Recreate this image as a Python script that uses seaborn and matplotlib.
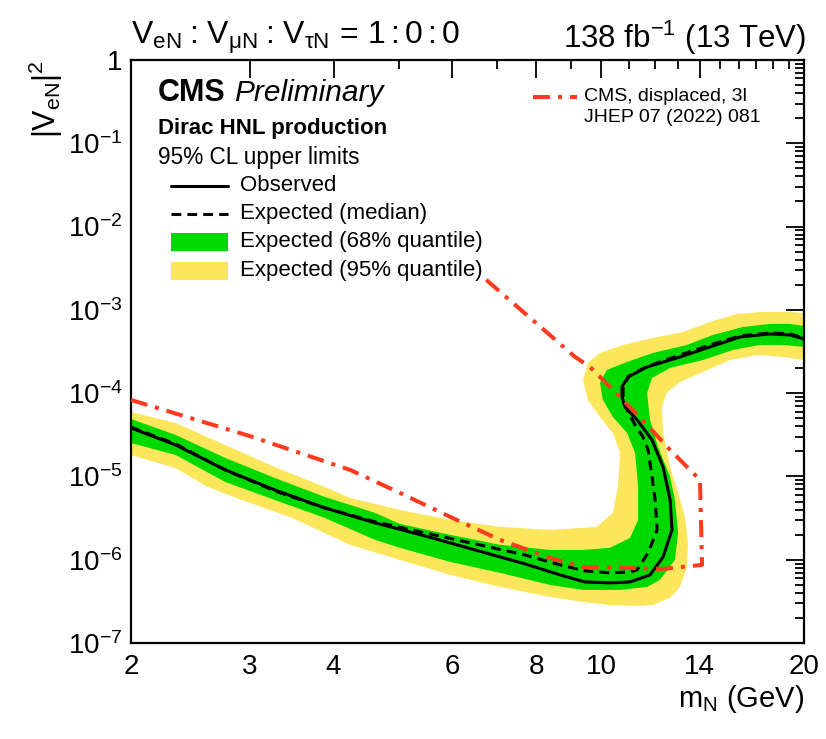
import numpy as np
import pandas as pd
import matplotlib
matplotlib.use("Agg")
import matplotlib.pyplot as plt
import seaborn as sns
from matplotlib.patches import Rectangle
from matplotlib.lines import Line2D

# ---------------- data ----------------
obs_m = [2.00, 2.33, 2.76, 3.27, 3.88, 4.61, 5.47, 6.49, 7.70, 8.68, 9.45, 10.30, 11.03, 11.81,
         12.35, 12.73, 12.65, 12.35, 11.89, 11.30, 10.84, 10.73, 10.73, 10.95, 11.69, 13.09,
         14.50, 16.07, 17.81, 19.06, 20.0]
obs_v = [3.82e-5, 2.39e-5, 1.20e-5, 6.89e-6, 4.19e-6, 2.77e-6, 1.93e-6, 1.31e-6, 8.91e-7, 6.57e-7,
         5.41e-7, 5.27e-7, 5.41e-7, 6.57e-7, 1.08e-6, 2.28e-6, 5.22e-6, 1.30e-5, 2.74e-5, 4.77e-5,
         6.82e-5, 8.99e-5, 1.19e-4, 1.56e-4, 2.06e-4, 2.72e-4, 3.59e-4, 4.73e-4, 5.14e-4, 5.00e-4,
         4.47e-4]

exp_m = [2.00, 2.33, 2.76, 3.27, 3.88, 4.61, 5.47, 6.49, 7.70, 8.68, 9.45, 10.30, 11.03, 11.30,
         11.73, 12.10, 12.02, 11.89, 11.73, 11.53, 11.22, 10.92, 10.77, 10.77, 10.99, 11.73, 13.09,
         14.50, 16.07, 17.81, 19.06, 20.0]
exp_v = [3.90e-5, 2.45e-5, 1.20e-5, 6.70e-6, 4.19e-6, 2.85e-6, 2.10e-6, 1.55e-6, 1.14e-6, 8.67e-7,
         7.34e-7, 6.95e-7, 7.14e-7, 7.55e-7, 1.21e-6, 2.28e-6, 5.22e-6, 9.86e-6, 2.08e-5, 2.98e-5,
         4.15e-5, 6.29e-5, 8.99e-5, 1.19e-4, 1.61e-4, 2.12e-4, 2.87e-4, 3.79e-4, 4.86e-4, 5.28e-4,
         5.14e-4, 4.60e-4]

disp_m = [2.00, 3.00, 4.23, 5.02, 5.96, 7.07, 8.39, 9.39, 10.66, 12.35, 14.11, 14.01, 12.65,
          11.69, 10.66, 9.62, 9.14, 6.67]
disp_v = [8.28e-5, 3.06e-5, 1.20e-5, 6.34e-6, 3.27e-6, 1.73e-6, 1.05e-6, 8.20e-7, 7.98e-7, 7.76e-7,
          8.67e-7, 9.08e-6, 2.08e-5, 4.15e-5, 8.99e-5, 2.06e-4, 2.72e-4, 2.48e-3]

# 95% band: outer edge (left/top of the S) then inner edge (right/bottom), forming a closed contour
y95_outer_m = [2.00, 2.33, 2.76, 3.27, 3.88, 4.23, 5.02, 5.96, 7.07, 8.39, 9.39, 9.85, 10.40, 10.58,
               10.66, 10.40, 9.95, 9.55, 9.39, 9.55, 9.95, 10.77, 11.93, 13.22, 14.50, 15.90, 17.38,
               18.87, 20.0]
y95_outer_v = [5.95e-5, 4.39e-5, 2.39e-5, 1.30e-5, 7.48e-6, 5.52e-6, 3.96e-6, 3.01e-6, 2.48e-6,
               2.28e-6, 2.41e-6, 2.48e-6, 3.65e-6, 7.48e-6, 1.91e-5, 3.33e-5, 5.18e-5, 8.28e-5,
               1.44e-4, 2.31e-4, 3.04e-4, 3.79e-4, 4.60e-4, 5.43e-4, 7.16e-4, 8.93e-4, 9.44e-4,
               9.44e-4, 9.18e-4]
y95_inner_m = [20.0, 18.61, 17.03, 15.52, 14.16, 13.09, 12.52, 12.30, 12.35, 12.65, 13.00, 13.31,
               13.45, 13.40, 13.09, 12.65, 11.93, 11.30, 10.30, 9.39, 8.39, 7.07, 5.96, 5.02, 4.23,
               3.47, 2.92, 2.60, 2.33, 2.00]
y95_inner_v = [2.50e-4, 2.72e-4, 2.87e-4, 2.50e-4, 1.80e-4, 1.36e-4, 1.03e-4, 6.82e-5, 3.33e-5,
               1.30e-5, 6.34e-6, 3.27e-6, 1.59e-6, 8.20e-7, 4.71e-7, 3.48e-7, 2.86e-7, 2.79e-7,
               2.86e-7, 3.11e-7, 3.57e-7, 4.71e-7, 6.57e-7, 9.95e-7, 1.51e-6, 3.18e-6, 5.22e-6,
               7.48e-6, 1.26e-5, 1.81e-5]

# 68% band
g68_outer_m = [2.00, 2.33, 2.76, 3.27, 3.88, 4.23, 4.61, 5.02, 5.96, 7.07, 8.39, 9.39, 10.30, 11.03,
               11.34, 11.34, 11.22, 10.92, 10.40, 10.05, 9.95, 10.19, 10.92, 11.93, 13.40, 14.65,
               16.23, 17.81, 19.06, 20.0]
g68_outer_v = [4.90e-5, 3.15e-5, 1.67e-5, 9.59e-6, 5.68e-6, 4.55e-6, 3.65e-6, 2.69e-6, 1.99e-6,
               1.51e-6, 1.31e-6, 1.31e-6, 1.39e-6, 1.83e-6, 3.01e-6, 7.48e-6, 1.91e-5, 3.33e-5,
               5.18e-5, 8.28e-5, 1.33e-4, 1.90e-4, 2.37e-4, 3.04e-4, 3.79e-4, 5.00e-4, 6.23e-4,
               6.78e-4, 6.78e-4, 6.41e-4]
g68_inner_m = [20.0, 18.61, 17.21, 15.68, 14.16, 12.65, 11.89, 11.69, 11.81, 12.14, 12.65, 12.86,
               13.00, 12.86, 12.22, 11.69, 10.66, 9.39, 8.39, 7.07, 5.96, 5.02, 4.61, 3.88, 3.27,
               2.76, 2.33, 2.00]
g68_inner_v = [3.59e-4, 3.79e-4, 3.79e-4, 3.30e-4, 2.50e-4, 2.01e-4, 1.52e-4, 1.00e-4, 4.77e-5,
               2.26e-5, 9.86e-6, 5.22e-6, 2.10e-6, 9.95e-7, 5.73e-7, 4.71e-7, 4.34e-7, 4.34e-7,
               4.98e-7, 6.95e-7, 9.42e-7, 1.39e-6, 1.73e-6, 3.18e-6, 5.22e-6, 8.59e-6, 1.81e-5,
               2.52e-5]

x_ticks = [2, 3, 4, 6, 8, 10, 14, 20]
x_ticklabels = ["2", "3", "4", "6", "8", "10", "14", "20"]
x_minor = [5, 7, 9, 11, 12, 13, 15, 16, 17, 18, 19]
y_ticks = [1e-7, 1e-6, 1e-5, 1e-4, 1e-3, 1e-2, 1e-1, 1]
y_ticklabels = [r"$10^{-7}$", r"$10^{-6}$", r"$10^{-5}$", r"$10^{-4}$", r"$10^{-3}$",
                r"$10^{-2}$", r"$10^{-1}$", "1"]

YELLOW = "#fce65c"
GREEN = "#00d900"
RED = "#ff3a1f"

# ---------------- style ----------------
sns.set_style("white")
plt.rcParams["font.family"] = ["Liberation Sans", "DejaVu Sans"]
plt.rcParams["mathtext.fontset"] = "custom"
plt.rcParams["mathtext.rm"] = "Liberation Sans"
plt.rcParams["mathtext.it"] = "Liberation Sans:italic"
plt.rcParams["mathtext.bf"] = "Liberation Sans:bold"
plt.rcParams["mathtext.sf"] = "Liberation Sans"
plt.rcParams["text.color"] = "black"
plt.rcParams["axes.labelcolor"] = "black"
plt.rcParams["xtick.color"] = "black"
plt.rcParams["ytick.color"] = "black"

W, H = 826, 739
fig = plt.figure(figsize=(W / 100, H / 100), dpi=100)
x0, x1, y0, y1 = 131, 804, 60, 643
ax = fig.add_axes([x0 / W, 1 - y1 / H, (x1 - x0) / W, (y1 - y0) / H])
ax.set_xscale("log")
ax.set_yscale("log")

# bands
ax.fill(y95_outer_m + y95_inner_m, y95_outer_v + y95_inner_v, color=YELLOW, lw=0, zorder=1)
ax.fill(g68_outer_m + g68_inner_m, g68_outer_v + g68_inner_v, color=GREEN, lw=0, zorder=2)

df_exp = pd.DataFrame({"m": exp_m, "v": exp_v})
df_obs = pd.DataFrame({"m": obs_m, "v": obs_v})
df_disp = pd.DataFrame({"m": disp_m, "v": disp_v})

sns.lineplot(data=df_exp, x="m", y="v", sort=False, estimator=None, color="black", lw=2.2,
             ax=ax, zorder=3)
ax.lines[-1].set_linestyle((0, (3.2, 2.0)))
sns.lineplot(data=df_obs, x="m", y="v", sort=False, estimator=None, color="black", lw=2.2,
             ax=ax, zorder=4)
sns.lineplot(data=df_disp, x="m", y="v", sort=False, estimator=None, color=RED, lw=2.9,
             ax=ax, zorder=5)
ax.lines[-1].set_linestyle((0, (4.2, 2.0, 1.0, 2.0)))

ax.set_xlim(2, 20)
ax.set_ylim(1e-7, 1)

# ticks
ax.set_xticks(x_ticks)
ax.set_xticklabels(x_ticklabels)
ax.set_xticks(x_minor, minor=True)
ax.set_xticklabels([""] * len(x_minor), minor=True)
ax.set_yticks(y_ticks)
ax.set_yticklabels(y_ticklabels)
ax.set_yticks([k * 10.0 ** e for e in range(-7, 0) for k in range(2, 10)], minor=True)
ax.set_yticklabels([], minor=True)
ax.tick_params(which="both", direction="in", top=True, right=True, color="black", width=1.3)
ax.tick_params(which="major", length=13, labelsize=20, labelcolor="black")
ax.tick_params(which="minor", length=6.5)
ax.tick_params(axis="x", which="major", pad=8)
ax.tick_params(axis="y", which="major", pad=6)
for s in ax.spines.values():
    s.set_linewidth(1.6)
    s.set_color("black")
ax.set_facecolor("white")
ax.grid(False)

# axis labels
ax.set_xlabel(r"$\mathrm{m_{N}}$ (GeV)", fontsize=21, loc="right", color="black")
ax.xaxis.set_label_coords(1.0, -0.068)
ax.set_ylabel(r"$|\mathrm{V_{eN}}|^{2}$", fontsize=22, loc="top", color="black")
ax.yaxis.set_label_coords(-0.098, 1.0)

# header texts
fig.text(x0 / W, 1 - 38 / H,
         r"$\mathrm{V_{eN}\hspace{0.09}:\hspace{0.09}V_{μN}\hspace{0.09}:\hspace{0.09}V_{τN}"
         r"\hspace{0.15}=\hspace{0.15}1:0:0}$",
         fontsize=23, ha="left", va="center", color="black")
fig.text(806 / W, 1 - 38 / H, r"138 fb$^{-1}$ (13 TeV)", fontsize=22.5, ha="right",
         va="center", color="black")


def axc(px, py):
    return ((px - x0) / (x1 - x0), (y1 - py) / (y1 - y0))


tx, ty = axc(158, 93)
ax.text(tx, ty, "CMS", fontsize=22, fontweight="bold", ha="left", va="center",
        transform=ax.transAxes)
tx2, _ = axc(234, 93)
ax.text(tx2, ty, "Preliminary", fontsize=21.5, fontstyle="italic", ha="left", va="center",
        transform=ax.transAxes)
tx, ty = axc(158, 129)
ax.text(tx, ty, "Dirac HNL production", fontsize=16, fontweight="bold", ha="left", va="center",
        transform=ax.transAxes)
tx, ty = axc(158, 158)
ax.text(tx, ty, "95% CL upper limits", fontsize=16.3, ha="left", va="center",
        transform=ax.transAxes)

# legend (left)
kx0, _ = axc(171, 0)
kx1, _ = axc(228, 0)
lx, _ = axc(240, 0)
rows = [("Observed", 186), ("Expected (median)", 214), ("Expected (68% quantile)", 242),
        ("Expected (95% quantile)", 271)]
for i, (lab, py) in enumerate(rows):
    _, yy = axc(0, py)
    if i == 0:
        ax.add_line(Line2D([kx0, kx1], [yy, yy], color="black", lw=2.2, transform=ax.transAxes))
    elif i == 1:
        ax.add_line(Line2D([kx0, kx1], [yy, yy], color="black", lw=2.2,
                           linestyle=(0, (3.2, 2.0)), transform=ax.transAxes))
    else:
        col = GREEN if i == 2 else YELLOW
        h = 18 / (y1 - y0)
        ax.add_patch(Rectangle((kx0, yy - h / 2), kx1 - kx0, h, color=col, lw=0,
                               transform=ax.transAxes, zorder=6))
    ax.text(lx, yy, lab, fontsize=16, ha="left", va="center", transform=ax.transAxes)

# legend (right)
rx0, ry = axc(533, 97)
rx1, _ = axc(577, 97)
ax.add_line(Line2D([rx0, rx1], [ry, ry], color=RED, lw=2.9, linestyle=(0, (4.2, 2.0, 1.0, 2.0)),
                   transform=ax.transAxes))
rtx, _ = axc(584, 0)
ax.text(rtx, ry, "CMS, displaced, 3l", fontsize=14, ha="left", va="center",
        transform=ax.transAxes)
_, ry2 = axc(0, 118)
ax.text(rtx, ry2, "JHEP 07 (2022) 081", fontsize=14, ha="left", va="center",
        transform=ax.transAxes)

fig.savefig("out.png", dpi=100, facecolor="white")
